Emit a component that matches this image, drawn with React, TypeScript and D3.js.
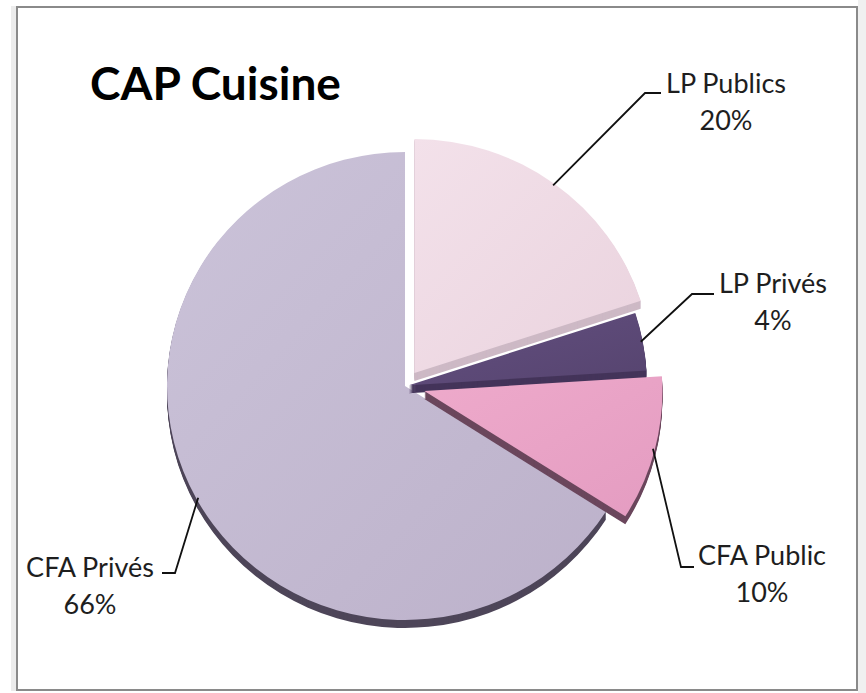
import React from "react";
import * as d3 from "d3";

// ---- Data ----
const categories = ["LP Publics", "LP Privés", "CFA Public", "CFA Privés"];
const values = [20, 4, 10, 66];
const title = "CAP Cuisine";

// ---- Styles / layout ----
const W = 866;
const H = 693;
const CX = 405;
const CY = 386;
const RX = 238;
const RY = 234;
const DEPTH = 8;
const explode = [16, 4, 20, 0];
const topColors = [
  ["#f3e1ea", "#ead3de"],
  ["#634f80", "#56446f"],
  ["#eeaacb", "#e49cc1"],
  ["#cbc3d9", "#bcb1ca"],
];
const sideColors = ["#cdb9c5", "#44345a", "#6b475d", "#4e4659"];
const drawOrder = [3, 0, 1, 2];
const labelLayout = [
  { elbow: [645, 93], stub: [661, 93], tx: 726, ty: 93 },
  { elbow: [692, 294], stub: [714, 294], tx: 773, ty: 293 },
  { elbow: [681, 567], stub: [694, 567], tx: 762, ty: 565 },
  { elbow: [175, 573], stub: [162, 573], tx: 90, ty: 577 },
];
const FONT = "Lato, 'Open Sans', sans-serif";

export default function App() {
  const total = d3.sum(values);
  const pie = d3.pie<number>().sort(null).value((d) => d);
  const arcs = pie(values);
  const arc = d3.arc<d3.PieArcDatum<number>>().innerRadius(0).outerRadius(RX);
  const pct = d3.format(".0%");
  const sy = RY / RX;

  const offsetOf = (i: number) => {
    const a = arcs[i];
    const mid = (a.startAngle + a.endAngle) / 2;
    return [explode[i] * Math.sin(mid), -explode[i] * Math.cos(mid)];
  };

  return (
    <svg
      width={W}
      height={H}
      style={{ position: "absolute", left: 0, top: 0, background: "#fff" }}
      fontFamily={FONT}
    >
      <defs>
        {topColors.map((c, i) => (
          <linearGradient key={i} id={`g${i}`} x1="0" y1="0" x2="1" y2="1">
            <stop offset="0%" stopColor={c[0]} />
            <stop offset="100%" stopColor={c[1]} />
          </linearGradient>
        ))}
      </defs>
      <rect x={0} y={0} width={W} height={H} fill="#fff" />
      <rect x={11} y={6} width={6} height={685} fill="#ececec" />
      <rect x={858} y={0} width={8} height={H} fill="#f0f0f0" />
      <rect x={17} y={7} width={840} height={683} fill="#fff" stroke="#8a8a8a" strokeWidth={2} />

      <text x={90} y={100} fontSize={46} fontWeight={700} fill="#000">
        {title}
      </text>

      {drawOrder.map((i) => {
        const [ox, oy] = offsetOf(i);
        const d = arc(arcs[i]) as string;
        const layers = d3.range(DEPTH, 0, -1);
        return (
          <g key={i}>
            {layers.map((k) => (
              <g key={k} transform={`translate(${CX + ox},${CY + oy + k}) scale(1,${sy})`}>
                <path d={d} fill={sideColors[i]} />
              </g>
            ))}
            <g transform={`translate(${CX + ox},${CY + oy}) scale(1,${sy})`}>
              <path d={d} fill={`url(#g${i})`} />
            </g>
          </g>
        );
      })}

      {arcs.map((a, i) => {
        const [ox, oy] = offsetOf(i);
        const mid = (a.startAngle + a.endAngle) / 2;
        const sx = CX + ox + (RX - 2) * Math.sin(mid);
        const syy = CY + oy - (RY - 2) * Math.cos(mid);
        const L = labelLayout[i];
        const pts: [number, number][] = [
          [sx, syy],
          [L.elbow[0], L.elbow[1]],
          [L.stub[0], L.stub[1]],
        ];
        const line = d3.line()(pts) as string;
        return (
          <g key={i}>
            <path d={line} fill="none" stroke="#111" strokeWidth={1.8} />
            <text x={L.tx} y={L.ty} textAnchor="middle" fontSize={27} fill="#1e1e1e">
              {categories[i]}
            </text>
            <text x={L.tx} y={L.ty + 37} textAnchor="middle" fontSize={27} fill="#1e1e1e">
              {pct(values[i] / total)}
            </text>
          </g>
        );
      })}
    </svg>
  );
}
